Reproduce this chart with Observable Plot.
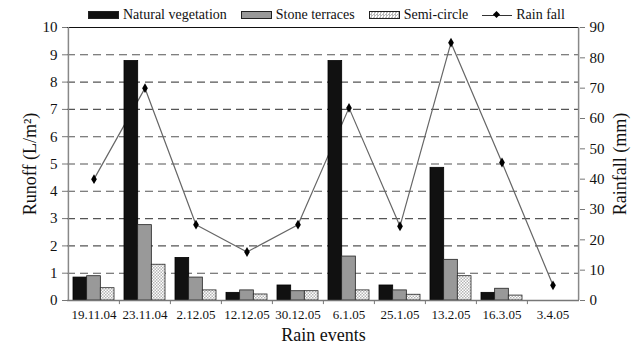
<!DOCTYPE html>
<html>
<head>
<meta charset="utf-8">
<script src="https://cdn.jsdelivr.net/npm/d3@7"></script>
<script src="https://cdn.jsdelivr.net/npm/@observablehq/plot@0.6"></script>
<style>
  html, body { margin: 0; padding: 0; background: #fff; }
  body { position: relative; width: 642px; height: 344px; overflow: hidden; font-family: "Liberation Serif", "Times New Roman", "DejaVu Serif", serif; }
  #legend { position: absolute; left: 0; top: 0; z-index: 2; height: 24px; box-sizing: border-box; padding-top: 6px; display: flex; align-items: center; padding-left: 88px; font-size: 14px; color: #111; white-space: nowrap; }
  #legend .item { display: flex; align-items: center; margin-right: 14px; }
  #legend .sw { width: 29px; height: 6px; border: 0.8px solid #222; margin-right: 4px; }
  #legend .ln { position: relative; width: 30px; height: 10px; margin-right: 4px; }
  #legend .ln::before { content: ""; position: absolute; left: 0; right: 0; top: 4.5px; height: 1.2px; background: #333; }
  #legend .ln::after { content: ""; position: absolute; left: 12px; top: 2px; width: 5px; height: 5px; background: #000; transform: rotate(45deg); }
  #chart svg, #chart svg text { font-family: "Liberation Serif", "Times New Roman", "DejaVu Serif", serif !important; }
</style>
</head>
<body>
<div id="chart"></div>
<div id="legend"></div>
<script>
// ---- data ----
const events = ["19.11.04", "23.11.04", "2.12.05", "12.12.05", "30.12.05", "6.1.05", "25.1.05", "13.2.05", "16.3.05", "3.4.05"];
const naturalVegetation = [0.84, 8.77, 1.56, 0.28, 0.55, 8.77, 0.55, 4.86, 0.28, 0];
const stoneTerraces     = [0.89, 2.76, 0.84, 0.37, 0.34, 1.61, 0.37, 1.49, 0.43, 0];
const semiCircle        = [0.45, 1.31, 0.37, 0.22, 0.34, 0.37, 0.21, 0.89, 0.18, 0];
const rainfall          = [40, 70, 25, 16, 25, 63.5, 24.5, 85, 45.5, 5];
const runoffTicks = [0, 1, 2, 3, 4, 5, 6, 7, 8, 9, 10];
const rainTicks = [0, 10, 20, 30, 40, 50, 60, 70, 80, 90];

const rows = events.map((e, i) => ({
  event: e,
  nat: naturalVegetation[i],
  stone: stoneTerraces[i],
  semi: semiCircle[i],
  rain: rainfall[i]
}));
const barRows = rows.filter(d => d.nat + d.stone + d.semi > 0);

// legend
const legend = document.getElementById("legend");
legend.innerHTML = `
  <div class="item"><div class="sw" style="background:#111"></div>Natural vegetation</div>
  <div class="item"><div class="sw" style="background:#999"></div>Stone terraces</div>
  <div class="item"><div class="sw" style="background:repeating-conic-gradient(#bbb 0 25%, #fff 0 50%) 0 0/3px 3px"></div>Semi-circle</div>
  <div class="item" style="margin-right:0"><div class="ln"></div>Rain fall</div>`;

// ---- chart ----
const W = 642, H = 344, ML = 67, MR = 63;
const step = (W - ML - MR) / (events.length - 0.2 + 0.2);
const bw = step * 0.8;
const third = bw / 3;
const y2 = d3.scaleLinear([0, 90], [0, 10]);

const svg = Plot.plot({
  width: W,
  height: H,
  marginLeft: ML,
  marginRight: MR,
  marginTop: 27,
  marginBottom: 44,
  style: { fontFamily: "'Liberation Serif', 'Times New Roman', 'DejaVu Serif', serif", fontSize: "15px", color: "#111", background: "#fff" },
  x: { type: "band", domain: events, paddingInner: 0.2, paddingOuter: 0.1, align: 0.5 },
  y: { domain: [0, 10] },
  marks: [
    // grid
    Plot.ruleY(runoffTicks.filter(d => d > 0 && d < 10), { stroke: "#555", strokeWidth: 1.1, strokeDasharray: "8,5" }),
    Plot.ruleY([10], { stroke: "#111", strokeWidth: 1.2 }),
    // rainfall line (behind bars)
    Plot.line(rows, { x: "event", y: d => y2(d.rain), stroke: "#666", strokeWidth: 1.2 }),
    Plot.dot(rows, { x: "event", y: d => y2(d.rain), symbol: "diamond", r: 3, fill: "#000", stroke: "none" }),
    // bars
    Plot.barY(barRows, { x: "event", y: "nat", fill: "#111", stroke: "#000", strokeWidth: 0.8, insetLeft: 0, insetRight: 2 * third }),
    Plot.barY(barRows, { x: "event", y: "stone", fill: "#999", stroke: "#222", strokeWidth: 0.8, insetLeft: third, insetRight: third }),
    Plot.barY(barRows, { x: "event", y: "semi", fill: "url(#semiPattern)", stroke: "#222", strokeWidth: 0.8, insetLeft: 2 * third, insetRight: 0 }),
    // frame lines
    Plot.ruleY([0], { stroke: "#777", strokeWidth: 1.3 }),
    Plot.ruleX([events[0]], { dx: -step / 2, y1: 0, y2: 10, stroke: "#888", strokeWidth: 1.5 }),
    Plot.ruleX([events[events.length - 1]], { dx: step / 2, y1: 0, y2: 10, stroke: "#888", strokeWidth: 1.5 }),
    // x ticks at category boundaries
    Plot.ruleX(events.slice(1), { x: d => d, dx: -step / 2, y1: 0, y2: -0.15, stroke: "#777" }),
    // axes
    Plot.axisX({ tickSize: 0, tickPadding: 9, fontSize: 13, label: "Rain events", labelAnchor: "center", labelOffset: 40, labelArrow: "none" }),
    Plot.axisY(runoffTicks, { anchor: "left", tickSize: 5, tickPadding: 5, stroke: "#777", label: "Runoff (L/m²)", labelAnchor: "center", labelOffset: 44, labelArrow: "none" }),
    Plot.axisY(rainTicks, { anchor: "right", y: y2, tickFormat: d => d, tickSize: 5, tickPadding: 5, stroke: "#777", label: "Rainfall (mm)", labelAnchor: "center", labelOffset: 46, labelArrow: "none" })
  ]
});

svg.insertAdjacentHTML("afterbegin", `<defs>
  <pattern id="semiPattern" width="3" height="3" patternUnits="userSpaceOnUse">
    <rect width="3" height="3" fill="#fff"></rect>
    <rect x="0" y="0" width="1.5" height="1.5" fill="#b5b5b5"></rect>
    <rect x="1.5" y="1.5" width="1.5" height="1.5" fill="#b5b5b5"></rect>
  </pattern></defs>`);
svg.querySelectorAll("[aria-label='y-axis label'] text, [aria-label='x-axis label'] text").forEach(t => t.style.fontSize = "18px");
document.getElementById("chart").appendChild(svg);
</script>
</body>
</html>
